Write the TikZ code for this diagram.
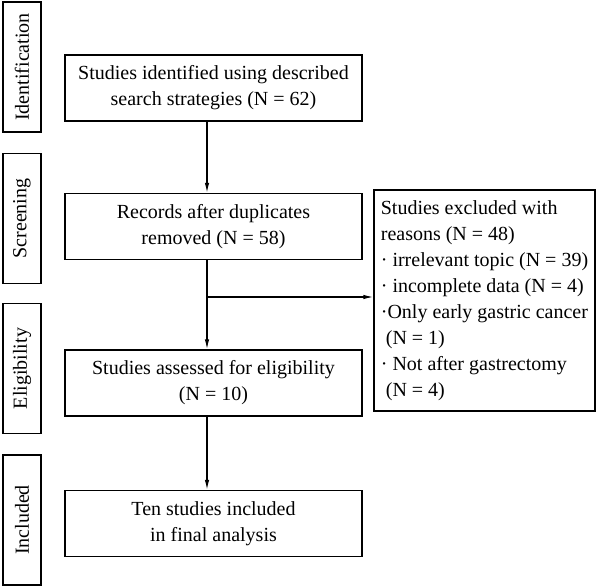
\documentclass[tikz,border=0pt]{standalone}
\usepackage{fontspec}
\setmainfont{Liberation Serif}
\usetikzlibrary{arrows.meta}
\begin{document}
\begin{tikzpicture}[x=1pt,y=-1pt,
  font=\fontsize{20}{26}\selectfont,
  stagebox/.style={draw, line width=1.4pt, rotate=90, inner sep=0pt,
    minimum width=130pt, minimum height=38pt},
  flowbox/.style={draw, line width=1.4pt, align=center, inner sep=0pt,
    minimum width=297pt, minimum height=66pt},
  exclbox/.style={draw, line width=1.4pt, align=left, inner sep=0pt,
    minimum width=221pt, minimum height=221pt},
  arr/.style={line width=1.2pt, -{Latex[length=10pt,width=4.5pt]}}]
\useasboundingbox (0,0) rectangle (597,588);
\pgfmathsetmacro\shift{-6.5};
% stages on the left
\node[stagebox] (sident) at (22,67) {Identification};
\node[stagebox] (sscreen) at (22,218.5) {Screening};
\node[stagebox] (selig) at (22,368.5) {Eligibility};
\node[stagebox] (sincl) at (22,520) {Included};
% main flow
\node[flowbox] (ident) at (213.5,88) {Studies identified using described\\search strategies (N = 62)};
\node[flowbox] (screen) at (213.5,226.5) {Records after duplicates\\removed (N = 58)};
\node[flowbox] (elig) at (213.5,383) {Studies assessed for eligibility\\(N = 10)};
\node[flowbox] (incl) at (213.5,523.5) {Ten studies included\\in final analysis};
\node[exclbox] (excl) at (484.5,300.5) {Studies excluded with\\reasons (N = 48)\\· irrelevant topic (N = 39)\\· incomplete data (N = 4)\\·Only early gastric cancer\\\ (N = 1)\\· Not after gastrectomy\\\ (N = 4)};
\draw[arr] ([xshift=\shift]ident.south) -- ([xshift=\shift]screen.north);
\draw[arr] ([xshift=\shift]screen.south) -- ([xshift=\shift]elig.north);
\draw[arr] ([xshift=\shift]elig.south) -- ([xshift=\shift]incl.north);
\coordinate (split) at (207,297);
\draw[arr] (split) -- (split -| excl.west);
\end{tikzpicture}
\end{document}
